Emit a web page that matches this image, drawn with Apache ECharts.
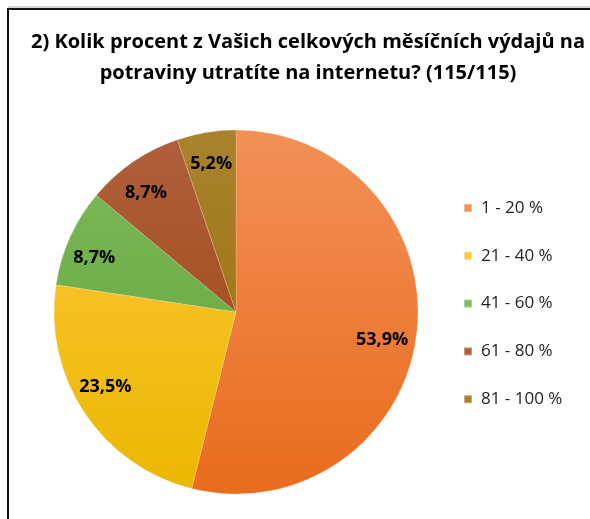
<!DOCTYPE html>
<html>
<head>
<meta charset="utf-8">
<script src="https://cdn.jsdelivr.net/npm/echarts@6/dist/echarts.min.js"></script>
<style>
  html, body { margin: 0; padding: 0; background: #fff; }
  #chart { width: 590px; height: 519px; }
</style>
</head>
<body>
<div id="chart"></div>
<script>
// data
const categories = ['1 - 20 %', '21 - 40 %', '41 - 60 %', '61 - 80 %', '81 - 100 %'];
const counts = [62, 27, 10, 10, 6];   // 115 respondents
const topColors = ['#F29058', '#FFC93E', '#7EBB5E', '#B0603E', '#A9822E'];
const bottomColors = ['#E86C1C', '#EBB700', '#60A034', '#9C4208', '#957000'];

const cx = 236, cy = 312, R = 182;
const total = counts.reduce(function (a, b) { return a + b; }, 0);
// small nudges so labels sit like Excel's best fit
const labelNudge = [[-5, 9], [-4, -9], [-3, 8], [-4, 6], [0, 2]];

let myChart = echarts.init(document.getElementById('chart'));

// gradient over the whole pie, light at top, dark at bottom
function fill(i) {
  return new echarts.graphic.LinearGradient(0, cy - R, 0, cy + R, [
    { offset: 0, color: topColors[i] },
    { offset: 1, color: bottomColors[i] }
  ], true);
}

let pieData = categories.map(function (name, i) {
  return { name: name, value: counts[i], itemStyle: { color: fill(i) } };
});
let labelData = categories.map(function (name, i) {
  return { name: name, value: counts[i], label: { offset: labelNudge[i] } };
});

let option = {
  backgroundColor: '#fff',
  animation: false,
  title: {
    text: '2) Kolik procent z Vašich celkových měsíčních výdajů na\npotraviny utratíte na internetu? (115/115)',
    left: 303,
    top: 22,
    textAlign: 'center',
    textStyle: {
      fontFamily: 'Open Sans',
      fontWeight: 'bold',
      fontSize: 20,
      lineHeight: 31,
      color: '#000'
    }
  },
  legend: {
    orient: 'vertical',
    left: 458,
    top: 193,
    icon: 'rect',
    itemWidth: 8,
    itemHeight: 8,
    itemGap: 27.8,
    data: categories,
    textStyle: {
      fontFamily: 'Open Sans',
      fontSize: 17,
      lineHeight: 20,
      padding: [0, 0, 0, 4],
      color: '#222'
    }
  },
  graphic: [
    {
      type: 'polyline',
      shape: { points: [[8, 519], [8, 9], [590, 9]] },
      style: { stroke: '#111', lineWidth: 2, fill: null }
    },
    {
      type: 'line',
      shape: { x1: 8, y1: 7, x2: 590, y2: 7 },
      style: { stroke: '#aaa', lineWidth: 1 }
    }
  ],
  series: [
    {
      name: 'pie',
      type: 'pie',
      center: [cx, cy],
      radius: [0, R],
      startAngle: 90,
      clockwise: true,
      silent: true,
      label: { show: false },
      labelLine: { show: false },
      itemStyle: { borderColor: 'rgba(255,255,255,0.35)', borderWidth: 0.5 },
      data: pieData
    },
    {
      // transparent ring only to place the labels near the rim
      name: 'labels',
      type: 'pie',
      center: [cx, cy],
      radius: [R * 0.64, R],
      startAngle: 90,
      clockwise: true,
      silent: true,
      itemStyle: { color: 'rgba(0,0,0,0)' },
      label: {
        show: true,
        position: 'inside',
        fontFamily: 'Open Sans',
        fontWeight: 'bold',
        fontSize: 18,
        color: '#000',
        formatter: function (p) {
          return (p.value / total * 100).toFixed(1).replace('.', ',') + '%';
        }
      },
      labelLine: { show: false },
      data: labelData
    }
  ]
};

myChart.setOption(option);
</script>
</body>
</html>
